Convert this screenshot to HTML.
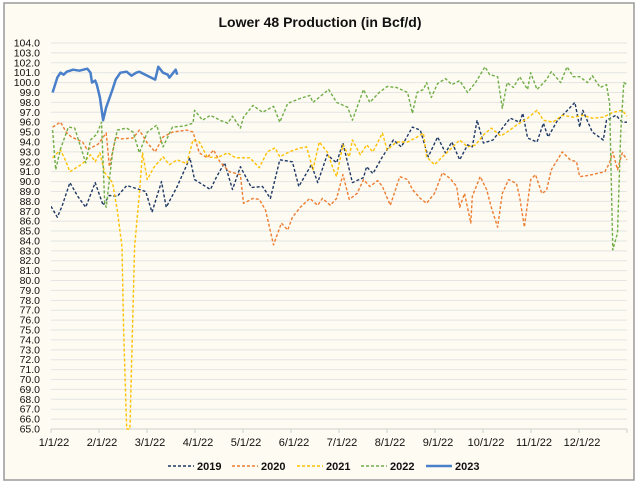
<!DOCTYPE html>
<html><head><meta charset="utf-8"><style>
body{margin:0;background:#fff;}
svg{display:block;font-family:"Liberation Sans",sans-serif;}
</style></head><body>
<svg id="chart" width="640" height="488">
<rect x="4" y="3" width="630" height="477" fill="#fdfbf2" stroke="#9a9a9a" stroke-width="1.5"/>
<text x="320" y="27" text-anchor="middle" font-size="14" font-weight="bold" fill="#111">Lower 48 Production (in Bcf/d)</text>
<g id="grid"></g><g id="yaxis"></g><g id="xaxis"></g>
<defs><clipPath id="pc"><rect x="51" y="40" width="578" height="390"/></clipPath></defs>
<g id="series" clip-path="url(#pc)"></g>
<g id="legend"></g>
</svg>
<script>
const xLabels=["1/1/22","2/1/22","3/1/22","4/1/22","5/1/22","6/1/22","7/1/22","8/1/22","9/1/22","10/1/22","11/1/22","12/1/22"];
const yMin=65,yMax=104;
const d2019=[0,4,7,12,17,22,28,33,37,42,48,54,60,64,70,73,80,88,91,101,105,110,115,120,127,134,139,145,153,157,165,169,175,181,185,191,198,200,204,210,217,222,229,234,239,245,250,254,259,264,267,270,274,280,285,291,297,299,302,308,312,315,321,326,332,335,337,343,350,352,358,362,365];
const v2019=[87.5,86.4,87.5,89.9,88.5,87.4,89.9,87.6,88.6,88.5,89.6,89.3,89,86.9,90,87.4,89.5,92.4,90.2,89.2,90.5,91.9,89.2,91.5,89.4,89.5,88.3,92.2,92,89.5,91.7,89.9,92.7,91.9,93.9,89.9,90.4,91.5,90.8,92.5,94.2,93.5,95.5,95.2,92.5,94.5,92.9,94,92.2,93.7,93.5,96.2,93.9,94.2,95.2,96.4,96,96.9,94.4,94,95.9,94.5,96.2,97,98,95.5,97.2,95,94.2,96.2,96.7,96,96];
const d2020=[1,6,10,13,20,23,30,35,37,41,44,52,56,61,66,71,77,86,90,94,99,103,107,113,120,122,128,132,136,141,146,150,153,158,164,169,172,177,181,185,189,194,198,202,207,210,215,221,226,229,234,238,243,248,253,257,259,262,266,267,272,276,279,283,286,290,295,297,300,304,307,311,314,317,324,329,333,335,340,343,348,351,354,356,359,362,365];
const v2020=[95.5,96,94.9,94.5,94,93.2,93.8,94.9,91.5,94.5,94.3,94.4,95.2,93.9,93,94.5,95,95.2,95,92.9,92.4,93.2,92,91,90.7,87.8,88.3,88.2,87.1,83.6,85.8,85.1,86.4,87.4,88.3,87.6,88.3,87.6,88.3,90.7,88.2,88.8,90.2,89.5,90.1,89.5,87.6,90.5,90.2,89.2,88.3,87.8,88.8,90.9,90.3,89.5,87.4,88.8,85.8,88.5,90.5,89.2,87.4,85.4,88.8,90.2,89.8,88.4,85.4,90.2,90.7,88.8,89.1,91.2,93,92.2,92,90.5,90.6,90.7,90.9,91,91.9,93,91.2,92.9,92.2];
const d2021=[1,6,9,12,16,20,25,28,31,34,39,42,45,46,48,50,53,56,58,61,65,71,75,80,86,90,94,99,105,112,117,120,126,132,137,142,145,151,158,162,166,170,175,179,181,185,189,191,196,200,204,210,213,219,226,232,236,238,243,248,254,259,264,269,274,279,285,289,295,302,308,312,318,324,331,337,343,350,356,362,365];
const v2021=[92.4,93.2,92.2,91,91.4,91.8,92.7,92,92.9,90.9,89.9,87.1,83.4,75,65,65,83.4,88.8,92.9,90.2,91.4,92.5,91.7,92.2,91.8,94.2,94,92.5,92.4,92.9,92.4,92.4,92.4,91.4,93,93.4,92.5,93,93.4,93.5,91.2,94,93,91.2,90.5,93.7,92.5,94.2,92.7,93.7,93,94.9,93.2,94,94,94.5,94.9,92.5,91.7,92.5,93.4,94.2,93.5,93.7,94.7,95.4,94.6,95,95.7,96.4,97.2,96.2,96,96.7,96.5,96.7,96.4,96.5,97,97.2,96.6];
const d2022=[1,3,6,11,15,18,22,25,29,32,34,35,39,42,48,52,56,61,67,71,77,84,90,91,96,101,107,112,115,120,122,128,134,141,145,150,158,164,166,176,181,188,191,198,202,208,213,219,226,229,232,236,238,241,245,250,254,259,264,269,275,278,283,286,289,293,297,302,304,308,314,317,323,327,331,335,340,343,348,352,354,356,359,361,363,365];
const v2022=[95.2,91.2,93.3,95.5,95.4,93.9,91.9,94.2,94.8,96,87.8,87.4,92.9,95.2,95.4,95,92.9,95,95.7,93.5,95.5,95.6,95.9,97.2,96.2,96.7,96.2,95.9,96.6,95.4,96.5,97.7,97,97.6,96,97.9,98.4,98.7,98,99.3,98,97.5,96.2,99.3,98,99,99.6,99.5,99,96.9,99,99.3,100,98.5,99.9,100.4,99.8,100.2,99,100,101.6,100.8,100.6,97.4,100,99.5,100.6,99.3,101,99.3,100.3,101.1,100,101.6,100.6,100.6,100,100.7,99.5,99.8,97.9,83.1,84.8,94.9,100,99.8];
const d2023=[1,4,6,8,10,14,18,23,25,26,28,29,31,33,35,39,41,44,48,51,54,56,61,66,68,71,74,75,79,80];
const v2023=[99,100.5,101,100.8,101.1,101.3,101.2,101.4,101,100,100.2,99.8,98.5,96.2,97.5,99.3,100.3,101,101.1,100.7,101,101.1,100.7,100.3,101.6,101,100.8,100.5,101.3,100.8];
const seriesNames=["2019","2020","2021","2022","2023"];

const NS="http://www.w3.org/2000/svg";
const X0=51,X1=627,Y0=429,Y1=43;
function xs(d){return X0+d*(X1-X0)/365;}
function ys(v){return Y0-(v-yMin)*(Y0-Y1)/(yMax-yMin);}
function mk(t,a,p){const e=document.createElementNS(NS,t);for(const k in a)e.setAttribute(k,a[k]);p.appendChild(e);return e;}
const grid=document.getElementById('grid'),ya=document.getElementById('yaxis'),xa=document.getElementById('xaxis');
for(let v=yMin;v<=yMax;v++){
  const g=mk('line',{x1:X0,x2:X1,y1:ys(v),y2:ys(v),stroke:'#e4e4e4','stroke-width':1},grid);
  
  
  const t=mk('text',{x:40,y:ys(v)+3.5,'text-anchor':'end','font-size':10.5,fill:'#111'},ya);
  t.textContent=v.toFixed(1);
  
  
}
const ax=mk('line',{x1:X0,x2:X1,y1:Y0,y2:Y0,stroke:'#d0d0d0'},xa);


for(let i=0;i<=12;i++){
  const x=X0+i*(X1-X0)/12;
  const tk=mk('line',{x1:x,x2:x,y1:Y0,y2:Y0+4,stroke:'#d0d0d0'},xa);
  
  
  if(i<12){
    const t=mk('text',{x:x+3,y:446,'text-anchor':'middle','font-size':11,fill:'#111'},xa);
    t.textContent=xLabels[i];
    
    
  }
}
const colors=["#1f3864","#ed7d31","#ffc000","#70ad47","#4a7fc9"];
const data=[[d2019,v2019],[d2020,v2020],[d2021,v2021],[d2022,v2022],[d2023,v2023]];
const sg=document.getElementById('series');
data.forEach((s,i)=>{
  const pts=s[0].map((d,j)=>xs(d).toFixed(1)+','+ys(s[1][j]).toFixed(1)).join(' ');
  const a={points:pts,fill:'none',stroke:colors[i],'stroke-width':i==4?2.5:1.4,'stroke-linejoin':'round'};
  if(i<4)a['stroke-dasharray']='3,2';
  const p=mk('polyline',a,sg);
  
  
});
const lg=document.getElementById('legend');
const lx=[168,232,297,361,426];
seriesNames.forEach((n,i)=>{
  const a={x1:lx[i],x2:lx[i]+26,y1:466,y2:466,stroke:colors[i],'stroke-width':i==4?2.5:1.4};
  if(i<4)a['stroke-dasharray']='3,2';
  const l=mk('line',a,lg);
  
  
  const t=mk('text',{x:lx[i]+29,y:470,'font-size':11,'font-weight':'bold',fill:'#111'},lg);
  t.textContent=n;
  
  
});
</script>
</body></html>
